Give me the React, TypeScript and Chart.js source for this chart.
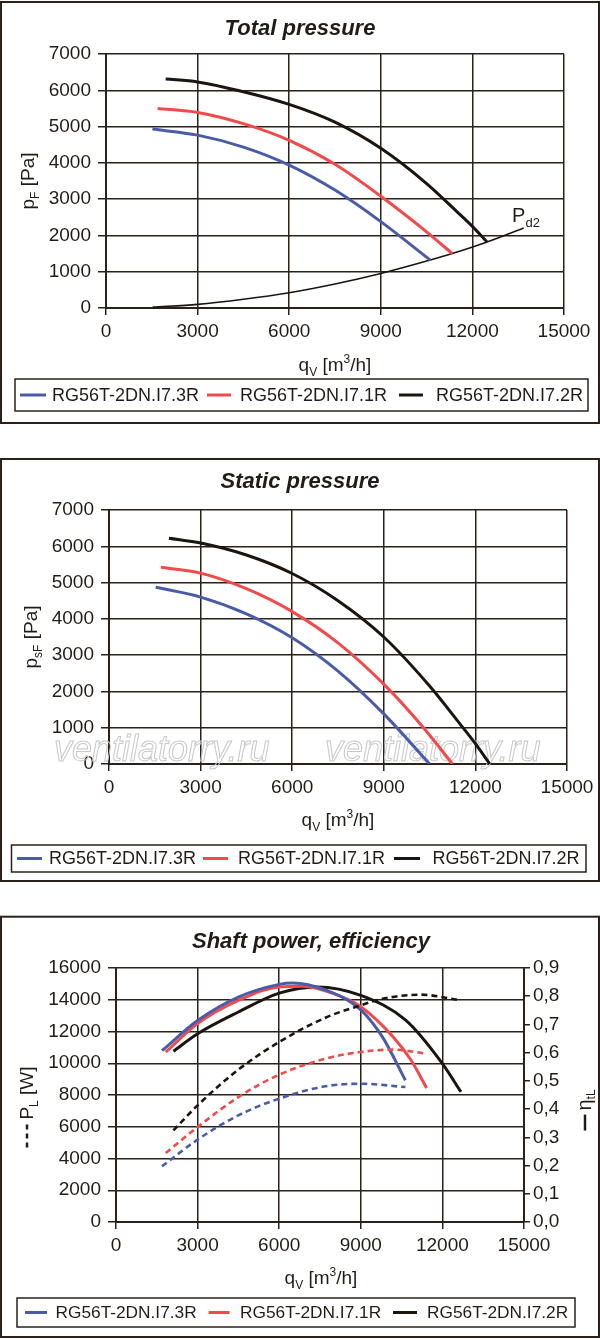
import React, { useEffect, useRef } from 'react';
import { Chart, registerables, ChartConfiguration } from 'chart.js';

Chart.register(...registerables);

const FONT = '"Liberation Sans", Arial, sans-serif';
const INK = '#231c16';
const GRID = '#2b2119';

Chart.defaults.font.family = FONT;
Chart.defaults.color = INK;

type Pair = [number, number];

const seriesNames = ['RG56T-2DN.I7.3R', 'RG56T-2DN.I7.1R', 'RG56T-2DN.I7.2R'];
const seriesColors = ['#4a5ca8', '#f24a4a', '#1c140e'];

const qTicks = [0, 3000, 6000, 9000, 12000, 15000];
const pressureTicks = [0, 1000, 2000, 3000, 4000, 5000, 6000, 7000];
const powerTicks = [0, 2000, 4000, 6000, 8000, 10000, 12000, 14000, 16000];
const effTicks = [0, 0.1, 0.2, 0.3, 0.4, 0.5, 0.6, 0.7, 0.8, 0.9];
const effTickLabels = ['0,0', '0,1', '0,2', '0,3', '0,4', '0,5', '0,6', '0,7', '0,8', '0,9'];

// total pressure pF [Pa] over qV [m3/h]
const totalBlue: Pair[] = [[1520, 4930], [3000, 4765], [4500, 4435], [6000, 3940], [7500, 3250], [9000, 2380], [10620, 1320]];
const totalRed: Pair[] = [[1690, 5500], [3000, 5390], [4500, 5080], [6000, 4620], [7500, 3960], [9000, 3080], [10500, 2100], [11340, 1500]];
const totalBlack: Pair[] = [[1955, 6310], [3000, 6230], [4500, 5960], [6000, 5610], [7500, 5120], [9000, 4400], [10500, 3430], [11500, 2650], [12000, 2250], [12480, 1820]];
const dynamicPd2: Pair[] = [[1530, 25], [3000, 100], [4500, 240], [6000, 420], [7500, 660], [9000, 950], [10620, 1320], [11340, 1500], [12480, 1820], [13680, 2205]];
const pd2LabelAt: Pair = [13300, 2370];

// static pressure psF [Pa]
const staticBlue: Pair[] = [[1530, 4870], [3000, 4600], [4500, 4140], [6000, 3480], [7500, 2560], [9000, 1380], [10500, 0]];
const staticRed: Pair[] = [[1700, 5420], [3000, 5260], [4500, 4830], [6000, 4200], [7500, 3340], [9000, 2200], [10300, 1000], [11250, 0]];
const staticBlack: Pair[] = [[1964, 6220], [3000, 6090], [4500, 5760], [6000, 5250], [7500, 4500], [9000, 3500], [10500, 2150], [11500, 1100], [12000, 560], [12470, 0]];

// shaft power PL [W] (dashed) and efficiency ηtL (solid)
const powerBlue: Pair[] = [[1690, 3510], [3000, 5190], [4500, 6720], [6000, 7770], [7700, 8550], [9000, 8710], [10640, 8500]];
const powerRed: Pair[] = [[1830, 4350], [3000, 5980], [4500, 7870], [6000, 9280], [7700, 10290], [9000, 10710], [10200, 10860], [11420, 10600]];
const powerBlack: Pair[] = [[2110, 5770], [3000, 7350], [4500, 9600], [6000, 11340], [7700, 12870], [9000, 13650], [9800, 14060], [11200, 14320], [12680, 13960]];
const effBlue: Pair[] = [[1690, 0.607], [3000, 0.714], [4500, 0.797], [6000, 0.842], [6500, 0.847], [7700, 0.822], [9000, 0.752], [9800, 0.655], [10640, 0.502]];
const effRed: Pair[] = [[1830, 0.602], [3000, 0.703], [4500, 0.785], [6000, 0.833], [6850, 0.835], [8000, 0.809], [9000, 0.763], [10200, 0.655], [10850, 0.573], [11420, 0.475]];
const effBlack: Pair[] = [[2110, 0.605], [3000, 0.667], [4500, 0.744], [6000, 0.811], [7400, 0.833], [9000, 0.803], [10650, 0.715], [12000, 0.561], [12680, 0.461]];

const toXY = (pairs: Pair[]) => pairs.map(([x, y]) => ({ x, y }));

type Run = { t?: string; size?: number; dy?: number; style?: string; line?: number; dash?: number[] };

function runsWidth(ctx: CanvasRenderingContext2D, runs: Run[]) {
  let w = 0;
  runs.forEach((r) => {
    if (r.line) { w += r.line; return; }
    ctx.font = `${r.style || ''} ${r.size}px ${FONT}`;
    w += ctx.measureText(r.t || '').width;
  });
  return w;
}

function drawRuns(ctx: CanvasRenderingContext2D, runs: Run[], x0: number, baseline: number, centered = true) {
  let x = centered ? x0 - runsWidth(ctx, runs) / 2 : x0;
  ctx.textAlign = 'left';
  ctx.textBaseline = 'alphabetic';
  ctx.fillStyle = INK;
  runs.forEach((r) => {
    if (r.line) {
      ctx.save();
      ctx.strokeStyle = INK;
      ctx.lineWidth = 2.5;
      ctx.setLineDash(r.dash || []);
      ctx.beginPath();
      ctx.moveTo(x, baseline - 6);
      ctx.lineTo(x + r.line - 4, baseline - 6);
      ctx.stroke();
      ctx.restore();
      x += r.line;
      return;
    }
    ctx.font = `${r.style || ''} ${r.size}px ${FONT}`;
    ctx.fillText(r.t || '', x, baseline + (r.dy || 0));
    x += ctx.measureText(r.t || '').width;
  });
}

const qTitle: Run[] = [{ t: 'q', size: 19 }, { t: 'V', size: 12, dy: 5 }, { t: ' [m', size: 19 }, { t: '3', size: 12, dy: -8 }, { t: '/h]', size: 19 }];

type Panel = {
  frame: [number, number, number, number];
  title: string;
  titleX: number;
  titleY: number;
  xTitleX: number;
  xTitleY: number;
  yTitle: Run[];
  yTitleX: number;
  yTitleY: number;
  rTitle?: Run[];
  rTitleX?: number;
  rTitleY?: number;
  legendBox: [number, number, number, number];
  legendItems: [number, number, number][];
  legendSize: number;
  watermark?: { xs: number[]; y: number };
  pd2?: boolean;
};

function decor(p: Panel) {
  return {
    id: 'decor',
    beforeDatasetsDraw(chart: Chart) {
      if (!p.watermark) return;
      const ctx = chart.ctx;
      ctx.save();
      ctx.font = `italic 36px ${FONT}`;
      ctx.strokeStyle = '#c8c8c8';
      ctx.lineWidth = 1;
      ctx.textAlign = 'left';
      ctx.textBaseline = 'alphabetic';
      p.watermark.xs.forEach((x) => ctx.strokeText('ventilatorry.ru', x, p.watermark!.y));
      ctx.restore();
    },
    afterDraw(chart: Chart) {
      const ctx = chart.ctx;
      ctx.save();
      // frame
      ctx.strokeStyle = GRID;
      ctx.lineWidth = 2;
      ctx.strokeRect(...p.frame);
      // title
      ctx.fillStyle = INK;
      ctx.font = `italic bold 22px ${FONT}`;
      ctx.textAlign = 'center';
      ctx.textBaseline = 'alphabetic';
      ctx.fillText(p.title, p.titleX, p.titleY);
      // axis titles
      drawRuns(ctx, qTitle, p.xTitleX, p.xTitleY);
      ctx.save();
      ctx.translate(p.yTitleX, p.yTitleY);
      ctx.rotate(-Math.PI / 2);
      drawRuns(ctx, p.yTitle, 0, 0);
      ctx.restore();
      if (p.rTitle) {
        ctx.save();
        ctx.translate(p.rTitleX!, p.rTitleY!);
        ctx.rotate(-Math.PI / 2);
        drawRuns(ctx, p.rTitle, 0, 0);
        ctx.restore();
      }
      // Pd2 label
      if (p.pd2) {
        const px = chart.scales.x.getPixelForValue(pd2LabelAt[0]);
        const py = chart.scales.y.getPixelForValue(pd2LabelAt[1]);
        drawRuns(ctx, [{ t: 'P', size: 20 }, { t: 'd2', size: 13, dy: 5 }], px, py, false);
      }
      // legend
      const [bx, by, bw, bh] = p.legendBox;
      ctx.strokeStyle = GRID;
      ctx.lineWidth = 1.5;
      ctx.strokeRect(bx, by, bw, bh);
      const cy = by + bh / 2;
      p.legendItems.forEach(([lx, lw, tx], i) => {
        ctx.strokeStyle = seriesColors[i];
        ctx.lineWidth = 3;
        ctx.setLineDash([]);
        ctx.beginPath();
        ctx.moveTo(lx, cy);
        ctx.lineTo(lx + lw, cy);
        ctx.stroke();
        ctx.fillStyle = INK;
        ctx.font = `${p.legendSize}px ${FONT}`;
        ctx.textAlign = 'left';
        ctx.textBaseline = 'middle';
        ctx.fillText(seriesNames[i], tx, cy + 1);
      });
      ctx.restore();
    },
  };
}

const tickFont = { size: 19, family: FONT };

function valueAxis(ticks: number[], extra: object = {}) {
  return {
    type: 'linear' as const,
    min: ticks[0],
    max: ticks[ticks.length - 1],
    afterBuildTicks: (axis: any) => { axis.ticks = ticks.map((value) => ({ value })); },
    ticks: { font: tickFont, color: INK, padding: 7, callback: (v: any) => String(v) },
    grid: { color: GRID, lineWidth: 1.5, tickLength: 8, tickColor: GRID },
    border: { color: GRID, width: 2 },
    afterFit: (axis: any) => { axis.width = 80; },
    ...extra,
  };
}

function qAxis() {
  return {
    type: 'linear' as const,
    min: 0,
    max: 15000,
    afterBuildTicks: (axis: any) => { axis.ticks = qTicks.map((value) => ({ value })); },
    ticks: { font: tickFont, color: INK, padding: 5, maxRotation: 0, callback: (v: any) => String(v) },
    grid: { color: GRID, lineWidth: 1.5, tickLength: 7, tickColor: GRID },
    border: { color: GRID, width: 2 },
    afterFit: (axis: any) => { axis.height = 40; },
  };
}

function line(pairs: Pair[], color: string, extra: object = {}) {
  return {
    data: toXY(pairs),
    borderColor: color,
    backgroundColor: color,
    borderWidth: 3,
    pointRadius: 0,
    cubicInterpolationMode: 'monotone' as const,
    fill: false,
    ...extra,
  };
}

const commonPlugins = { legend: { display: false }, title: { display: false }, tooltip: { enabled: false } };

const totalPanel: Panel = {
  frame: [1, 2, 598, 421], title: 'Total pressure', titleX: 300, titleY: 35,
  xTitleX: 335, xTitleY: 371,
  yTitle: [{ t: 'p', size: 19 }, { t: 'F', size: 12, dy: 5 }, { t: ' [Pa]', size: 19 }], yTitleX: 34, yTitleY: 181,
  legendBox: [15, 379, 573, 32], legendItems: [[20, 26, 52], [207, 24, 240], [399, 24, 436]], legendSize: 18,
  pd2: true,
};

const staticPanel: Panel = {
  frame: [1, 4, 598, 422], title: 'Static pressure', titleX: 300, titleY: 33,
  xTitleX: 338, xTitleY: 371,
  yTitle: [{ t: 'p', size: 19 }, { t: 'sF', size: 12, dy: 5 }, { t: ' [Pa]', size: 19 }], yTitleX: 37, yTitleY: 182,
  legendBox: [11.5, 390, 574.5, 27], legendItems: [[17, 25, 49], [203, 25, 238], [394, 26, 432.5]], legendSize: 18,
  watermark: { xs: [54, 325], y: 306 },
};

const powerPanel: Panel = {
  frame: [1, 4.7, 598, 420.3], title: 'Shaft power, efficiency', titleX: 311, titleY: 36,
  xTitleX: 321, xTitleY: 372,
  yTitle: [{ line: 28, dash: [5, 4] }, { t: 'P', size: 19 }, { t: 'L', size: 12, dy: 5 }, { t: ' [W]', size: 19 }], yTitleX: 33, yTitleY: 195,
  rTitle: [{ line: 20 }, { t: 'η', size: 20 }, { t: 'tL', size: 12, dy: 4 }], rTitleX: 591, rTitleY: 198,
  legendBox: [17, 386, 558, 29], legendItems: [[25, 22, 55.5], [208.6, 21, 240], [393, 24, 427]], legendSize: 17.3,
};

const totalConfig: ChartConfiguration = {
  type: 'line',
  data: {
    datasets: [
      line(totalBlue, seriesColors[0]),
      line(totalRed, seriesColors[1]),
      line(totalBlack, seriesColors[2]),
      line(dynamicPd2, seriesColors[2], { borderWidth: 1.6 }),
    ],
  },
  options: {
    animation: false,
    responsive: false,
    layout: { padding: { left: 26, right: 36, top: 54, bottom: 78 } },
    scales: { x: qAxis(), y: valueAxis(pressureTicks) },
    plugins: commonPlugins,
  },
  plugins: [decor(totalPanel)],
} as any;

const staticConfig: ChartConfiguration = {
  type: 'line',
  data: {
    datasets: [
      line(staticBlue, seriesColors[0]),
      line(staticRed, seriesColors[1]),
      line(staticBlack, seriesColors[2]),
    ],
  },
  options: {
    animation: false,
    responsive: false,
    layout: { padding: { left: 29, right: 33, top: 55, bottom: 81 } },
    scales: { x: qAxis(), y: valueAxis(pressureTicks) },
    plugins: commonPlugins,
  },
  plugins: [decor(staticPanel)],
} as any;

const dashed = { borderDash: [6, 4], borderWidth: 2.6 };

const powerConfig: ChartConfiguration = {
  type: 'line',
  data: {
    datasets: [
      line(powerBlue, seriesColors[0], dashed),
      line(powerRed, seriesColors[1], dashed),
      line(powerBlack, seriesColors[2], dashed),
      line(effBlue, seriesColors[0], { yAxisID: 'y1' }),
      line(effRed, seriesColors[1], { yAxisID: 'y1' }),
      line(effBlack, seriesColors[2], { yAxisID: 'y1' }),
    ],
  },
  options: {
    animation: false,
    responsive: false,
    layout: { padding: { left: 36, right: 26, top: 56, bottom: 78 } },
    scales: {
      x: qAxis(),
      y: valueAxis(powerTicks),
      y1: valueAxis(effTicks, {
        position: 'right',
        ticks: { font: tickFont, color: INK, padding: 3, callback: (_v: any, i: number) => effTickLabels[i] },
        grid: { drawOnChartArea: false, color: GRID, lineWidth: 1.5, tickLength: 6, tickColor: GRID },
        afterFit: (axis: any) => { axis.width = 50; },
      }),
    },
    plugins: commonPlugins,
  },
  plugins: [decor(powerPanel)],
} as any;

const ChartPanel: React.FC<{ config: ChartConfiguration; top: number; height: number }> = ({ config, top, height }) => {
  const canvasRef = useRef<HTMLCanvasElement | null>(null);
  useEffect(() => {
    if (!canvasRef.current) return;
    const chart = new Chart(canvasRef.current, config);
    return () => chart.destroy();
  }, [config]);
  return (
    <canvas
      ref={canvasRef}
      width={600}
      height={height}
      style={{ position: 'absolute', left: 0, top, width: 600, height, display: 'block' }}
    />
  );
};

export default function App() {
  return (
    <div style={{ position: 'absolute', left: 0, top: 0, width: 600, height: 1340, background: '#fff' }}>
      <ChartPanel config={totalConfig} top={0} height={426} />
      <ChartPanel config={staticConfig} top={455} height={430} />
      <ChartPanel config={powerConfig} top={912} height={428} />
    </div>
  );
}
